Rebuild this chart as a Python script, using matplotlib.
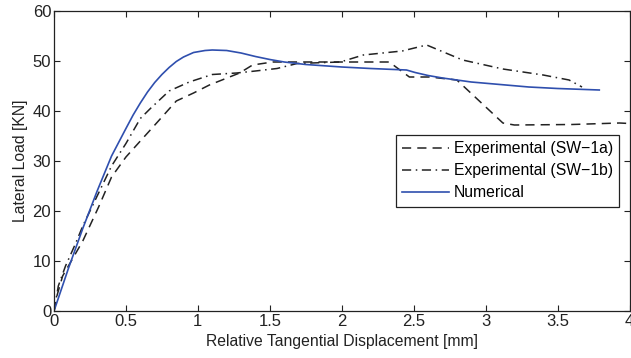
import matplotlib.pyplot as plt

plt.rcParams['font.family'] = ['Liberation Sans', 'DejaVu Sans']

# Experimental (SW-1a)
xa = [0, 0.02, 0.06, 0.1, 0.2, 0.31, 0.4, 0.5, 0.6, 0.71, 0.85, 0.97, 1.08, 1.22, 1.29, 1.38,
      1.52, 1.73, 2.06, 2.33, 2.47, 2.61, 2.8, 3.12, 3.2, 3.6, 3.93, 4.0]
ya = [0, 3, 7, 9, 14, 20.8, 26.8, 30.8, 34, 37.5, 42, 43.6, 45.2, 46.8, 47.6, 49.2,
      49.8, 49.8, 49.8, 49.8, 46.8, 46.8, 46.2, 37.6, 37.2, 37.3, 37.6, 37.5]

# Experimental (SW-1b)
xb = [0, 0.03, 0.08, 0.15, 0.2, 0.3, 0.4, 0.5, 0.6, 0.67, 0.8, 0.94, 1.1, 1.27, 1.4, 1.55,
      1.69, 1.99, 2.15, 2.42, 2.59, 2.84, 3.12, 3.4, 3.58, 3.67]
yb = [0, 5, 9, 13.5, 17, 23, 29, 33.5, 38.5, 40.5, 44, 45.8, 47.3, 47.6, 48, 48.5,
      49.5, 49.8, 51.2, 52, 53.2, 50.2, 48.4, 47.2, 46.2, 44.8]

# Numerical
xn = [0, 0.1, 0.2, 0.3, 0.4, 0.5, 0.55, 0.6, 0.65, 0.7, 0.75, 0.8, 0.85, 0.9, 0.97, 1.05,
      1.1, 1.2, 1.3, 1.4, 1.5, 1.6, 1.75, 2.0, 2.2, 2.45, 2.51, 2.6, 2.7, 2.9, 3.1, 3.3,
      3.5, 3.79]
yn = [0, 8.5, 16.5, 24, 31, 36.5, 39.2, 41.6, 43.8, 45.7, 47.3, 48.7, 49.9, 50.8, 51.7, 52.1,
      52.2, 52.1, 51.6, 50.9, 50.3, 49.8, 49.3, 48.8, 48.5, 48.2, 47.7, 47.1, 46.6, 45.8, 45.3, 44.8,
      44.5, 44.2]

fig = plt.figure(figsize=(6.31, 3.58), dpi=100)
ax = fig.add_axes([54 / 631, 1 - 311 / 358, 575.5 / 631, 300 / 358])

ax.plot(xa, ya, color='#222222', lw=1.1, dashes=(6, 4), label='Experimental (SW\u22121a)')
ax.plot(xb, yb, color='#222222', lw=1.1, dashes=(6, 3, 1, 3), label='Experimental (SW\u22121b)')
ax.plot(xn, yn, color='#2f4fae', lw=1.2, label='Numerical')

ax.set_xlim(0, 4)
ax.set_ylim(0, 60)
ax.set_xticks([0, 0.5, 1, 1.5, 2, 2.5, 3, 3.5, 4])
ax.set_xticklabels(['0', '0.5', '1', '1.5', '2', '2.5', '3', '3.5', '4'])
ax.set_yticks([0, 10, 20, 30, 40, 50, 60])
ax.tick_params(direction='in', top=True, right=True, length=4, width=0.8,
               labelsize=12, colors='#222222', pad=2)
for s in ax.spines.values():
    s.set_linewidth(0.9)
    s.set_color('#222222')

ax.set_xlabel('Relative Tangential Displacement [mm]', fontsize=11.3, color='#222222', labelpad=4)
ax.set_ylabel('Lateral Load [KN]', fontsize=11.3, color='#222222', labelpad=3)

leg = ax.legend(loc='upper left', bbox_to_anchor=(0.594, 0.587), borderaxespad=0,
                fontsize=11.3, fancybox=False, handlelength=3.0, framealpha=1,
                edgecolor='#222222', borderpad=0.4, labelspacing=0.45, handletextpad=0.3)
leg.get_frame().set_linewidth(0.9)

fig.savefig('out.png', dpi=100)
